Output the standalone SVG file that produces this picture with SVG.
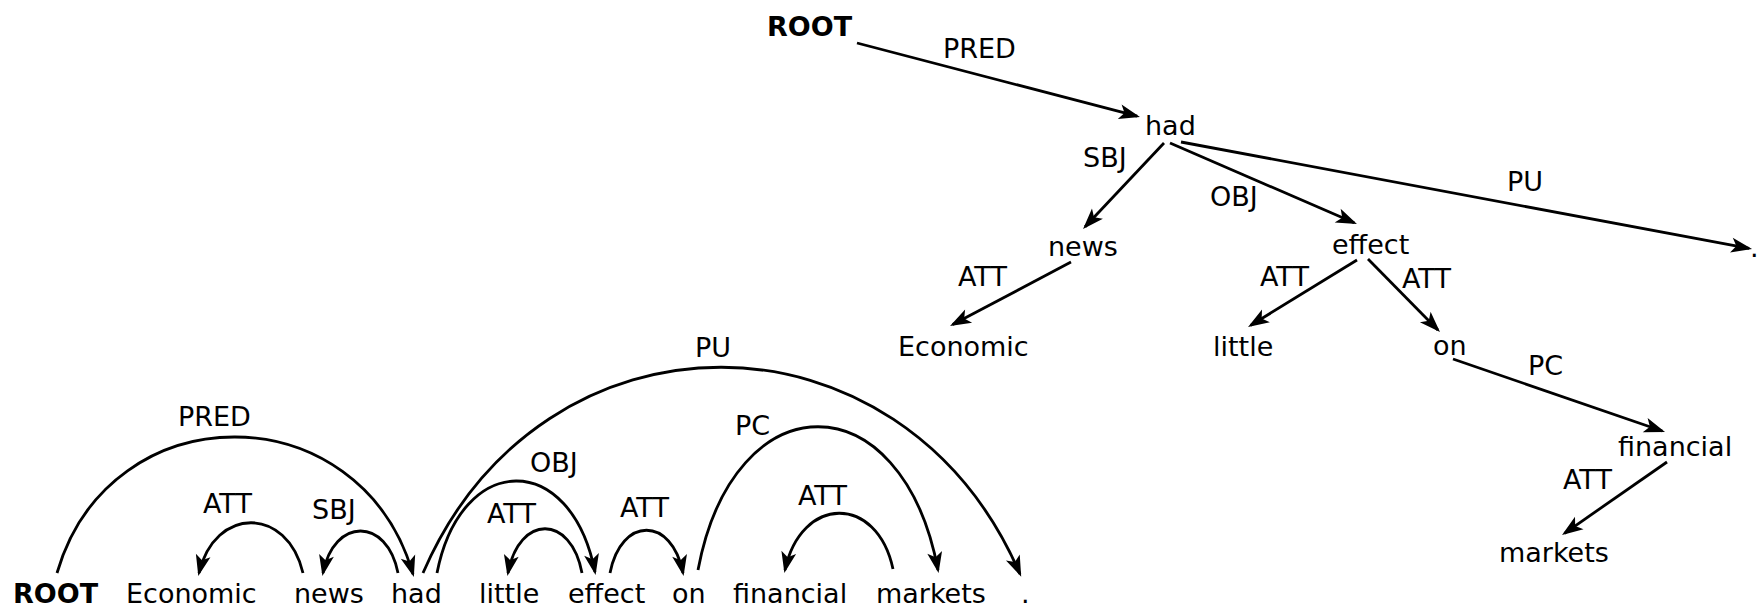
<svg xmlns="http://www.w3.org/2000/svg" width="1758" height="607" viewBox="0 0 1758 607">
<style>
text{font-family:"DejaVu Sans","Liberation Sans",sans-serif;font-size:27px;fill:#000}
.b{font-weight:bold}
.e{fill:none;stroke:#000;stroke-width:2.8;marker-end:url(#ah)}
</style>
<defs>
<marker id="ah" markerUnits="userSpaceOnUse" markerWidth="30" markerHeight="20" refX="21" refY="10" orient="auto" overflow="visible">
<path d="M24,10 L3,2.5 L8,10 L3,17.5 Z" fill="#000"/>
</marker>
</defs>
<rect width="1758" height="607" fill="#fff"/>
<g id="connectors">
<path class="e" d="M57,573 C110,391 360,392 413,574"/>
<path class="e" d="M303,573 C287,506 215,506 199,573"/>
<path class="e" d="M398,573 C387,517 334,517 323,573"/>
<path class="e" d="M423,573 C542,298 901,299 1020,574"/>
<path class="e" d="M437,573 C461,451 571,450 595,572"/>
<path class="e" d="M582,573 C571,514 519,514 508,573"/>
<path class="e" d="M610,573 C621,516 672,516 683,573"/>
<path class="e" d="M698,570 C734,379 902,379 938,570"/>
<path class="e" d="M893,569 C877,494 801,495 785,570"/>
<path class="e" d="M857,43 L1137.1,116.2"/>
<path class="e" d="M1164,143 L1085.1,226.8"/>
<path class="e" d="M1170,143 L1354.2,222.8"/>
<path class="e" d="M1181,142 L1749.1,248.4"/>
<path class="e" d="M1071,262 L952.7,324.6"/>
<path class="e" d="M1357,260 L1250.6,325.4"/>
<path class="e" d="M1368,259 L1437.9,329.9"/>
<path class="e" d="M1453,359 L1662.2,431"/>
<path class="e" d="M1667,462 L1564.5,533.3"/>
</g>
<g id="labels">
<text x="178" y="426">PRED</text>
<text x="203" y="513">ATT</text>
<text x="312" y="519">SBJ</text>
<text x="695" y="357">PU</text>
<text x="530" y="472">OBJ</text>
<text x="487" y="523">ATT</text>
<text x="620" y="517">ATT</text>
<text x="735" y="435">PC</text>
<text x="798" y="505">ATT</text>
<text x="943" y="58">PRED</text>
<text x="1083" y="167">SBJ</text>
<text x="1210" y="206">OBJ</text>
<text x="1507" y="191">PU</text>
<text x="958" y="286">ATT</text>
<text x="1260" y="286">ATT</text>
<text x="1402" y="288">ATT</text>
<text x="1528" y="375">PC</text>
<text x="1563" y="489">ATT</text>
</g>
<g id="n-root-b"><text class="b" x="13" y="603">ROOT</text></g>
<g id="n-economic-b"><text x="126" y="603">Economic</text></g>
<g id="n-news-b"><text x="294" y="603">news</text></g>
<g id="n-had-b"><text x="391" y="603">had</text></g>
<g id="n-little-b"><text x="479" y="603">little</text></g>
<g id="n-effect-b"><text x="568" y="603">effect</text></g>
<g id="n-on-b"><text x="672" y="603">on</text></g>
<g id="n-financial-b"><text x="733" y="603">financial</text></g>
<g id="n-markets-b"><text x="876" y="603">markets</text></g>
<g id="n-period-b"><text x="1021" y="603">.</text></g>
<g id="n-root-t"><text class="b" x="767" y="36">ROOT</text></g>
<g id="n-had-t"><text x="1145" y="135">had</text></g>
<g id="n-news-t"><text x="1048" y="256">news</text></g>
<g id="n-effect-t"><text x="1332" y="254">effect</text></g>
<g id="n-period-t"><text x="1750" y="257">.</text></g>
<g id="n-economic-t"><text x="898" y="356">Economic</text></g>
<g id="n-little-t"><text x="1213" y="356">little</text></g>
<g id="n-on-t"><text x="1433" y="355">on</text></g>
<g id="n-financial-t"><text x="1618" y="456">financial</text></g>
<g id="n-markets-t"><text x="1499" y="562">markets</text></g>
</svg>
